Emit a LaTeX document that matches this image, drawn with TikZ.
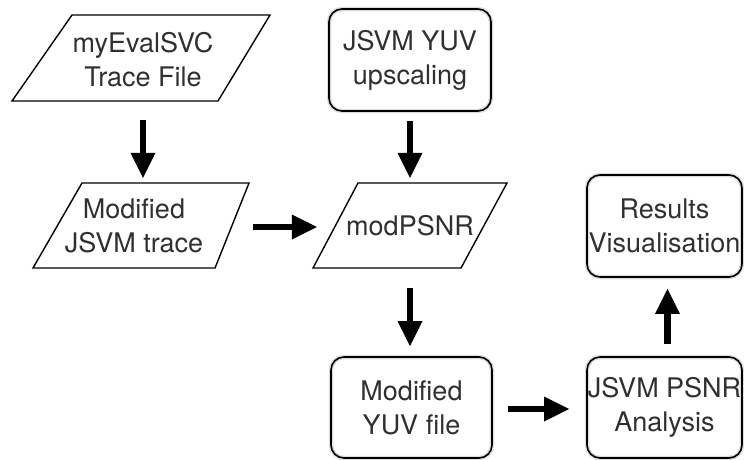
\documentclass[tikz,border=0pt]{standalone}
\usepackage{fontspec}
\setmainfont{TeX Gyre Heros}
\usetikzlibrary{arrows.meta}
\definecolor{ink}{HTML}{303030}
\begin{document}
\begin{tikzpicture}[x=1pt,y=-1pt,
  lbl/.style={text=ink, font=\fontsize{27}{34}\selectfont, align=center, inner sep=0pt},
  rbox/.style={lbl, draw=black, line width=1.6pt, rounded corners=13pt,
    minimum height=102pt, preaction={draw=black!13, line width=4.5pt}},
  para/.style={lbl, minimum width=150pt, minimum height=85pt},
  pline/.style={draw=black, line width=1.4pt, line join=miter},
  arr/.style={line width=6.5pt, -{Triangle[length=25pt,width=25pt,line width=0pt]}}]
\useasboundingbox (0,0) rectangle (744,459);

% labelled steps
\node[para] (trace)  at (143,60)    {myEvalSVC\\Trace File};
\node[para] (mtrace) at (134,226) {Modified\\JSVM trace};
\node[para] (psnr)   at (410,226) {modPSNR};
\node[rbox, minimum width=162pt] (up) at (410,60) {JSVM YUV\\upscaling};
\node[rbox, minimum width=161pt, minimum height=101pt] (yuv) at (411.5,407.5) {Modified\\YUV file};
\node[rbox, minimum width=155pt, minimum height=101pt] (ana) at (664.5,407.5) {JSVM PSNR\\Analysis};
\node[rbox, minimum width=155pt] (vis) at (664.5,226) {Results\\Visualisation};

% data outlines (parallelograms)
\draw[pline, shift={(trace.center)}] (-71,-45) -- (127,-45) -- (75,41) -- (-131,41) -- cycle;
\draw[pline, shift={(mtrace.center)}] (-52,-43) -- (115,-43) -- (81,42) -- (-101,42) -- cycle;
\draw[pline, shift={(psnr.center)}] (-52,-43) -- (97,-43) -- (51,42) -- (-97,42) -- cycle;

% flow
\draw[arr, shorten <=17.5pt, shorten >=5.5pt] (trace.south) -- (trace.south |- mtrace.north);
\draw[arr, shorten <=9pt, shorten >=5.5pt] (up.south) -- (up.south |- psnr.north);
\draw[arr, shorten <=44pt, shorten >=18pt] ([yshift=-1pt]mtrace.east) -- ([yshift=-1pt]mtrace.east -| psnr.west);
\draw[arr, shorten <=19.5pt, shorten >=10pt] (psnr.south) -- (psnr.south |- yuv.north);
\draw[arr, shorten <=15pt, shorten >=17pt] ([yshift=-1.5pt]yuv.east) -- ([yshift=-1.5pt]yuv.east -| ana.west);
\coordinate (up6) at ([xshift=3pt]ana.north);
\draw[arr, shorten <=12pt, shorten >=11pt] (up6) -- (up6 |- vis.south);
\end{tikzpicture}
\end{document}
